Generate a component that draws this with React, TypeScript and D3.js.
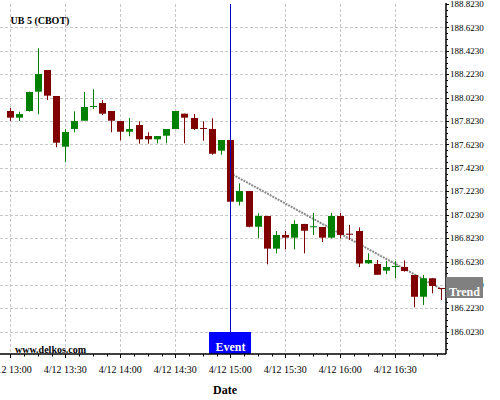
import React from "react";
import * as d3 from "d3";

const TITLE = "UB 5 (CBOT)";
const WATERMARK = "www.delkos.com";
const X_LABEL = "Date";

const TIMES = [
  "13:00", "13:05", "13:10", "13:15", "13:20", "13:25", "13:30", "13:35", "13:40", "13:45", "13:50", "13:55",
  "14:00", "14:05", "14:10", "14:15", "14:20", "14:25", "14:30", "14:35", "14:40", "14:45", "14:50", "14:55",
  "15:00", "15:05", "15:10", "15:15", "15:20", "15:25", "15:30", "15:35", "15:40", "15:45", "15:50", "15:55",
  "16:00", "16:05", "16:10", "16:15", "16:20", "16:25", "16:30", "16:35", "16:40", "16:45", "16:50", "16:55",
];

const OPEN = [
  187.909, 187.852, 187.909, 188.074, 188.259, 188.037, 187.604, 187.755, 187.826, 187.946, 187.977, 187.909,
  187.823, 187.732, 187.789, 187.695, 187.667, 187.698, 187.755, 187.886, 187.849, 187.764, 187.755, 187.570,
  187.661, 187.134, 187.225, 186.920, 187.012, 186.733, 186.850, 186.827, 186.944, 186.918, 186.918, 186.827,
  187.012, 186.861, 186.884, 186.608, 186.602, 186.545, 186.576, 186.576, 186.508, 186.322, 186.480, 186.397,
];
const HIGH = [
  187.937, 187.903, 188.074, 188.445, 188.259, 188.037, 187.753, 187.906, 188.071, 188.094, 188.003, 187.909,
  187.823, 187.849, 187.821, 187.727, 187.695, 187.755, 187.909, 187.886, 187.883, 187.821, 187.847, 187.661,
  187.661, 187.291, 187.225, 187.035, 187.012, 186.884, 186.884, 186.975, 186.944, 187.038, 186.918, 187.038,
  187.038, 186.935, 186.915, 186.693, 186.636, 186.627, 186.627, 186.633, 186.508, 186.508, 186.480, 186.397,
];
const LOW = [
  187.823, 187.823, 187.903, 187.881, 188.003, 187.599, 187.471, 187.727, 187.826, 187.926, 187.875, 187.727,
  187.659, 187.693, 187.630, 187.630, 187.633, 187.633, 187.755, 187.633, 187.747, 187.655, 187.536, 187.536,
  187.134, 187.103, 186.915, 186.821, 186.599, 186.693, 186.727, 186.727, 186.693, 186.850, 186.790, 186.821,
  186.821, 186.807, 186.576, 186.602, 186.508, 186.516, 186.480, 186.536, 186.232, 186.252, 186.351, 186.294,
];
const CLOSE = [
  187.852, 187.883, 188.071, 188.225, 188.040, 187.638, 187.729, 187.823, 187.943, 187.952, 187.886, 187.826,
  187.732, 187.755, 187.667, 187.667, 187.695, 187.755, 187.909, 187.852, 187.755, 187.758, 187.544, 187.661,
  187.134, 187.225, 186.920, 187.012, 186.733, 186.850, 186.827, 186.944, 186.886, 186.924, 186.827, 187.012,
  186.850, 186.852, 186.606, 186.636, 186.510, 186.576, 186.585, 186.542, 186.322, 186.480, 186.414, 186.388,
];

const Y_TICK_LABELS = [
  "186.0230", "186.2230", "186.4230", "186.6230", "186.8230", "187.0230", "187.2230", "187.4230",
  "187.6230", "187.8230", "188.0230", "188.2230", "188.4230", "188.6230", "188.8230",
];
const X_TICK_TIMES = ["13:00", "13:30", "14:00", "14:30", "15:00", "15:30", "16:00", "16:30"];
const X_DOMAIN = ["12:54:23", "16:57:39"];
const Y_DOMAIN = [185.833, 188.823];

const TREND_TIMES = ["15:00", "16:55"];
const TREND_VALUES = [187.377, 186.388];
const TREND_LABEL = "Trend";
const EVENT_TIME = "15:00";
const EVENT_LABEL = "Event";

const W = 500;
const H = 400;
const PLOT = { left: 0, top: 4, right: 446, bottom: 354 };
const FONT = "'Liberation Serif', 'Times New Roman', serif";
const UP = "#008000";
const DOWN = "#800000";

function toDate(t: string): Date {
  const [h, m, s] = t.split(":").map(Number);
  return new Date(2013, 3, 12, h, m, s || 0);
}

export default function App() {
  const x = d3.scaleTime().domain(X_DOMAIN.map(toDate)).range([PLOT.left, PLOT.right]);
  const y = d3.scaleLinear().domain(Y_DOMAIN).range([PLOT.bottom, PLOT.top]);
  const fmt = d3.timeFormat("%-m/%-d %H:%M");

  const xMajor = X_TICK_TIMES.map(toDate);
  const stepMs = 7.5 * 60000;
  const base = xMajor[0].getTime();
  const [d0, d1] = x.domain().map((d) => d.getTime());
  const xMinor = d3
    .range(Math.ceil((d0 - base) / stepMs), Math.floor((d1 - base) / stepMs) + 1)
    .filter((k) => k % 4 !== 0)
    .map((k) => new Date(base + k * stepMs));

  const yMajor = Y_TICK_LABELS.map(Number);
  const yBase = yMajor[0];
  const yStep = 0.05;
  const yMinor = d3
    .range(Math.ceil((Y_DOMAIN[0] - yBase) / yStep - 1e-9), Math.floor((Y_DOMAIN[1] - yBase) / yStep + 1e-9) + 1)
    .filter((k) => k % 4 !== 0)
    .map((k) => yBase + k * yStep);

  const trendLine = d3
    .line<number>()
    .x((_, i) => x(toDate(TREND_TIMES[i])))
    .y((v) => y(v));

  const ex = Math.round(x(toDate(EVENT_TIME))) + 0.5;
  const trendEndY = y(TREND_VALUES[TREND_VALUES.length - 1]);

  return (
    <div style={{ position: "absolute", left: 0, top: 0 }}>
      <svg width={W} height={H} style={{ display: "block", background: "#fff" }} fontFamily={FONT}>
        {/* grid */}
        <g stroke="#c8c8c8" strokeWidth={1} strokeDasharray="3,2">
          {yMajor
            .filter((v) => Math.abs(y(v) - PLOT.top) > 1)
            .map((v, i) => (
              <line key={"gy" + i} x1={PLOT.left} x2={PLOT.right} y1={Math.round(y(v)) + 0.5} y2={Math.round(y(v)) + 0.5} />
            ))}
          {xMajor.map((d, i) => (
            <line key={"gx" + i} x1={Math.round(x(d)) + 0.5} x2={Math.round(x(d)) + 0.5} y1={PLOT.top} y2={PLOT.bottom} />
          ))}
        </g>

        <text x={10.5} y={23.5} fontSize={10} fontWeight="bold" fill="#000">
          {TITLE}
        </text>

        {/* trend line */}
        <path d={trendLine(TREND_VALUES) || ""} fill="none" stroke="#8a8a8a" strokeWidth={2} strokeDasharray="2,1" />

        {/* candles */}
        {TIMES.map((t, i) => {
          const cx = Math.round(x(toDate(t)));
          const o = OPEN[i];
          const c = CLOSE[i];
          const col = c >= o ? UP : DOWN;
          const top = y(Math.max(o, c));
          const h = Math.max(1, Math.abs(y(o) - y(c)));
          return (
            <g key={"c" + i}>
              <line x1={cx + 0.5} x2={cx + 0.5} y1={y(HIGH[i])} y2={y(LOW[i])} stroke={col} strokeWidth={1} />
              <rect x={cx - 3} y={top} width={7} height={h} fill={col} />
            </g>
          );
        })}

        {/* event */}
        <line x1={ex} x2={ex} y1={PLOT.top} y2={332} stroke="#0000cc" strokeWidth={1} />
        <rect x={ex - 21.5} y={332} width={42} height={PLOT.bottom - 332} fill="#0000ff" />
        <text x={ex} y={350.5} textAnchor="middle" fontSize={12} fontWeight="bold" fill="#fff">
          {EVENT_LABEL}
        </text>

        <text x={15} y={352.5} fontSize={10} fontWeight="bold" fill="#000">
          {WATERMARK}
        </text>

        {/* x axis */}
        <line x1={PLOT.left} x2={PLOT.right} y1={PLOT.bottom} y2={PLOT.bottom} stroke="#000" strokeWidth={1.5} />
        {xMinor.map((d, i) => (
          <line key={"xm" + i} x1={Math.round(x(d)) + 0.5} x2={Math.round(x(d)) + 0.5} y1={PLOT.bottom} y2={PLOT.bottom + 2.5} stroke="#000" strokeWidth={1} />
        ))}
        {xMajor.map((d, i) => (
          <g key={"xt" + i}>
            <line x1={Math.round(x(d)) + 0.5} x2={Math.round(x(d)) + 0.5} y1={PLOT.bottom} y2={PLOT.bottom + 4} stroke="#000" strokeWidth={1} />
            <text x={x(d)} y={373} textAnchor="middle" fontSize={10} fill="#000">
              {fmt(d)}
            </text>
          </g>
        ))}
        <text x={225} y={394} textAnchor="middle" fontSize={12} fontWeight="bold" fill="#000">
          {X_LABEL}
        </text>

        {/* y axis */}
        <line x1={PLOT.right} x2={PLOT.right} y1={PLOT.top - 1} y2={PLOT.bottom} stroke="#000" strokeWidth={1.5} />
        {yMinor.map((v, i) => (
          <line key={"ym" + i} x1={PLOT.right} x2={PLOT.right + 2} y1={Math.round(y(v)) + 0.5} y2={Math.round(y(v)) + 0.5} stroke="#000" strokeWidth={1} />
        ))}
        {yMajor.map((v, i) => (
          <g key={"yt" + i}>
            <line x1={PLOT.right} x2={PLOT.right + 3} y1={Math.round(y(v)) + 0.5} y2={Math.round(y(v)) + 0.5} stroke="#000" strokeWidth={1} />
            <text x={PLOT.right + 4} y={y(v)} dy="0.35em" fontSize={9} fill="#000">
              {Y_TICK_LABELS[i]}
            </text>
          </g>
        ))}

        {/* trend label */}
        <rect x={PLOT.right} y={trendEndY - 12} width={37} height={21} fill="#808080" />
        <text x={PLOT.right + 18.5} y={trendEndY + 7} textAnchor="middle" fontSize={12} fontWeight="bold" fill="#fff">
          {TREND_LABEL}
        </text>
      </svg>
    </div>
  );
}
